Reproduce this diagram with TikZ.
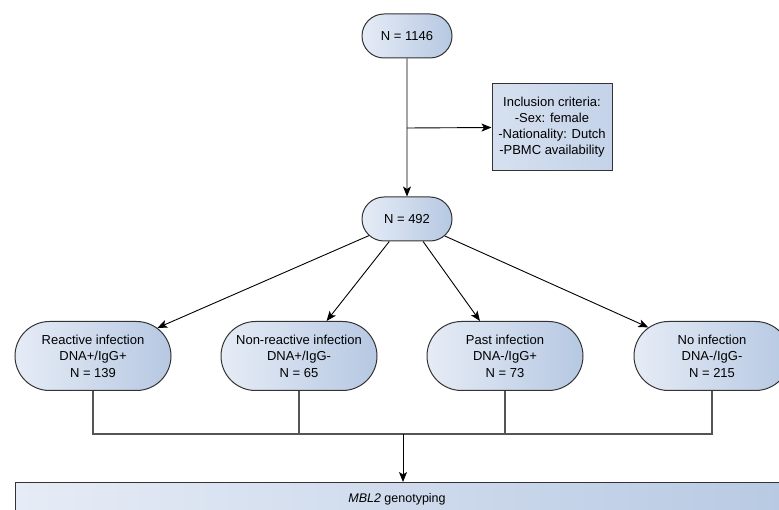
\documentclass[tikz,border=0pt]{standalone}
\usepackage{fontspec}
\setmainfont{Liberation Sans}
\usetikzlibrary{shapes.misc,arrows.meta}
\definecolor{gradL}{HTML}{E6ECF6}
\definecolor{gradR}{HTML}{B6C8E2}
\definecolor{boxfill}{HTML}{C4D3E9}
\definecolor{edgegray}{HTML}{333333}
\definecolor{linegray}{HTML}{555555}
\tikzset{
  pill/.style={rounded rectangle, draw=edgegray, line width=1pt,
    left color=gradL, right color=gradR, align=center,
    font=\fontsize{13}{16.5}\selectfont, inner sep=0pt},
  critbox/.style={rectangle, draw=edgegray, line width=1pt,
    left color=boxfill!70!white, right color=boxfill, align=center,
    font=\fontsize{13}{16}\selectfont, inner sep=0pt,
    minimum width=120pt, minimum height=87pt},
  genobox/.style={rectangle, draw=edgegray, line width=1pt,
    left color=gradL, right color=gradR, anchor=north west,
    inner sep=0pt, minimum width=800pt, minimum height=40pt},
  arr/.style={-{Stealth[length=10pt,width=8pt,inset=2.5pt]}, line width=0.9pt, black},
  collect/.style={line width=1.1pt, linegray},
}
\begin{document}
\begin{tikzpicture}[x=1pt,y=-1pt]
\useasboundingbox (0,0) rectangle (779,510);
\clip (0,0) rectangle (779,510);
\node[pill, minimum width=90pt, minimum height=44pt] (top) at (407,36) {N = 1146};
\node[critbox] (incl) at (552,127.5) {Inclusion criteria:\\-Sex: female\\-Nationality: Dutch\\-PBMC availability};
\node[pill, minimum width=90pt, minimum height=44pt] (mid) at (407,219) {N = 492};
\node[pill, minimum width=156pt, minimum height=69pt] (react) at (93,356) {Reactive infection\\DNA+/IgG+\\N = 139};
\node[pill, minimum width=156pt, minimum height=69pt] (nonr) at (299,356) {Non-reactive infection\\DNA+/IgG-\\N = 65};
\node[pill, minimum width=156pt, minimum height=69pt] (past) at (505,356) {Past infection\\DNA-/IgG+\\N = 73};
\node[pill, minimum width=156pt, minimum height=69pt] (noinf) at (712,356) {No infection\\DNA-/IgG-\\N = 215};
\node[genobox] (geno) at (15,482) {};
\node[font=\fontsize{12.5}{15}\selectfont] (genotext) at (397,499) {\textit{MBL2} genotyping};
\coordinate (branch) at (407,128);
\coordinate (jL) at (93,434);
\coordinate (jR) at (712,434);
\coordinate (jM) at (403,434);
\draw[arr] (top) -- (mid);
\draw[arr] (branch) -- (incl.west);
\draw[arr] (mid) -- (react);
\draw[arr] (mid) -- (nonr);
\draw[arr] (mid) -- (past);
\draw[arr] (mid) -- (noinf);
\draw[collect] (react.south) -- (jL) -- (jR) -- (noinf.south);
\draw[collect] (nonr.south) -- (nonr.south |- jL);
\draw[collect] (past.south) -- (past.south |- jL);
\draw[arr] (jM) -- (jM |- geno.north);
\end{tikzpicture}
\end{document}
